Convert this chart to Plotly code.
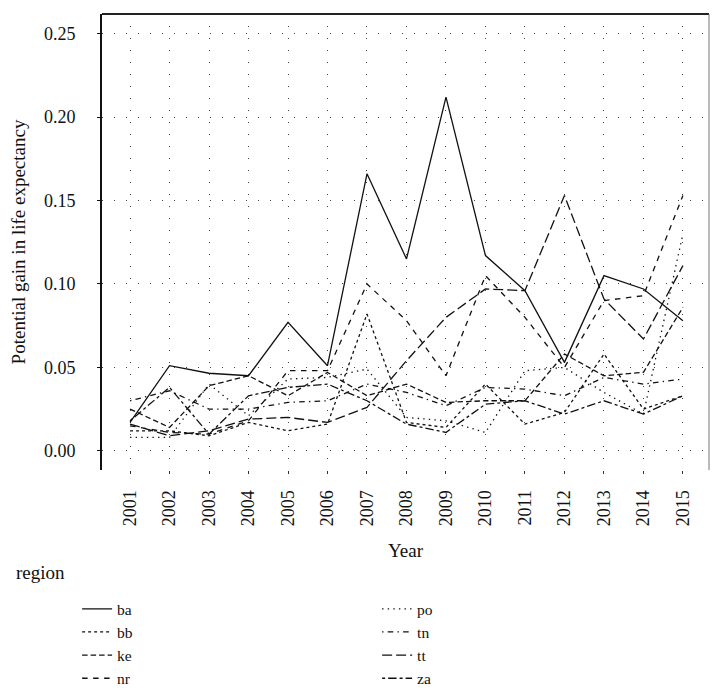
import plotly.graph_objects as go

years = list(range(2001, 2016))

ba = [0.017, 0.051, 0.0465, 0.045, 0.077, 0.051, 0.166, 0.115, 0.212, 0.117, 0.096, 0.053, 0.105, 0.097, 0.078]
bb = [0.012, 0.012, 0.009, 0.017, 0.012, 0.016, 0.082, 0.017, 0.014, 0.040, 0.016, 0.023, 0.058, 0.025, 0.033]
ke = [0.025, 0.014, 0.039, 0.045, 0.033, 0.047, 0.033, 0.040, 0.029, 0.030, 0.030, 0.058, 0.045, 0.047, 0.086]
nr = [0.015, 0.011, 0.010, 0.018, 0.048, 0.048, 0.100, 0.078, 0.045, 0.105, 0.080, 0.050, 0.090, 0.093, 0.153]
po = [0.008, 0.008, 0.040, 0.021, 0.043, 0.044, 0.049, 0.020, 0.018, 0.011, 0.048, 0.050, 0.035, 0.022, 0.130]
tn = [0.030, 0.036, 0.025, 0.025, 0.029, 0.030, 0.040, 0.035, 0.027, 0.038, 0.037, 0.033, 0.044, 0.040, 0.043]
tt = [0.016, 0.009, 0.012, 0.019, 0.020, 0.017, 0.026, 0.054, 0.080, 0.097, 0.096, 0.153, 0.091, 0.067, 0.111]
za = [0.018, 0.038, 0.010, 0.033, 0.038, 0.040, 0.030, 0.016, 0.011, 0.028, 0.030, 0.022, 0.030, 0.022, 0.033]

regions = ["ba", "bb", "ke", "nr", "po", "tn", "tt", "za"]
series = {"ba": ba, "bb": bb, "ke": ke, "nr": nr, "po": po, "tn": tn, "tt": tt, "za": za}
dashes = {
    "ba": "solid",
    "bb": "3px,3px",
    "ke": "5.5px,3px",
    "nr": "5.5px,5.5px",
    "po": "1.4px,4.2px",
    "tn": "1.4px,4.2px,5.6px,4.2px",
    "tt": "10px,4px",
    "za": "3px,3px,8.5px,3px",
}
# legend is filled row-major in two columns: ba po / bb tn / ke tt / nr za
legend_rank = {"ba": 1, "po": 2, "bb": 3, "tn": 4, "ke": 5, "tt": 6, "nr": 7, "za": 8}

y_ticks = [0.0, 0.05, 0.10, 0.15, 0.20, 0.25]

FONT = "Liberation Serif"

fig = go.Figure()
for r in regions:
    fig.add_trace(go.Scatter(
        x=years, y=series[r], mode="lines", name=r,
        line=dict(color="#111111", width=1.3, dash=dashes[r]),
        legendrank=legend_rank[r],
    ))

# the page adds an 8px body margin, so margins are reduced on top/left
fig.update_layout(
    width=724, height=696,
    margin=dict(l=94, r=23, t=6, b=234, autoexpand=False),
    plot_bgcolor="white", paper_bgcolor="white",
    font=dict(family=FONT, size=18, color="#111111"),
    showlegend=True,
    legend=dict(
        orientation="h", x=-0.041, xanchor="left", y=-0.268, yanchor="top",
        entrywidth=255, entrywidthmode="pixels",
        font=dict(family=FONT, size=15.5, color="#111111"),
        itemwidth=30, bgcolor="rgba(0,0,0,0)", tracegroupgap=0,
    ),
    xaxis=dict(
        automargin=False,
        range=[2000.29, 2015.66], tickvals=years, ticktext=[str(y) for y in years],
        tickangle=-90, ticks="outside", ticklen=3, tickcolor="#333333",
        showline=False, zeroline=False,
        showgrid=True, gridcolor="#444444", gridwidth=1, griddash="1px,11px",
        title=dict(text="Year", font=dict(family=FONT, size=19), standoff=18),
        tickfont=dict(family=FONT, size=18), ticklabelstandoff=9,
    ),
    yaxis=dict(
        automargin=False,
        range=[-0.0115, 0.2618], tickvals=y_ticks, tickformat=".2f",
        ticks="outside", ticklen=3, tickcolor="#111111",
        showline=True, linecolor="#111111", linewidth=2, zeroline=False,
        showgrid=True, gridcolor="#444444", gridwidth=1, griddash="1px,11px",
        title=dict(text="Potential gain in life expectancy", font=dict(family=FONT, size=19), standoff=13),
        tickfont=dict(family=FONT, size=18), ticklabelstandoff=18,
    ),
    shapes=[
        dict(type="line", xref="paper", yref="paper", x0=0, x1=1, y0=1, y1=1,
             line=dict(color="#222222", width=2)),
        dict(type="line", xref="paper", yref="paper", x0=1, x1=1, y0=0, y1=1,
             line=dict(color="#777777", width=1)),
    ],
    annotations=[
        dict(text="region", xref="paper", yref="paper", x=-0.145, y=-0.225,
             xanchor="left", yanchor="middle", showarrow=False,
             font=dict(family=FONT, size=19, color="#111111")),
    ],
)

fig.write_html("out.html")
